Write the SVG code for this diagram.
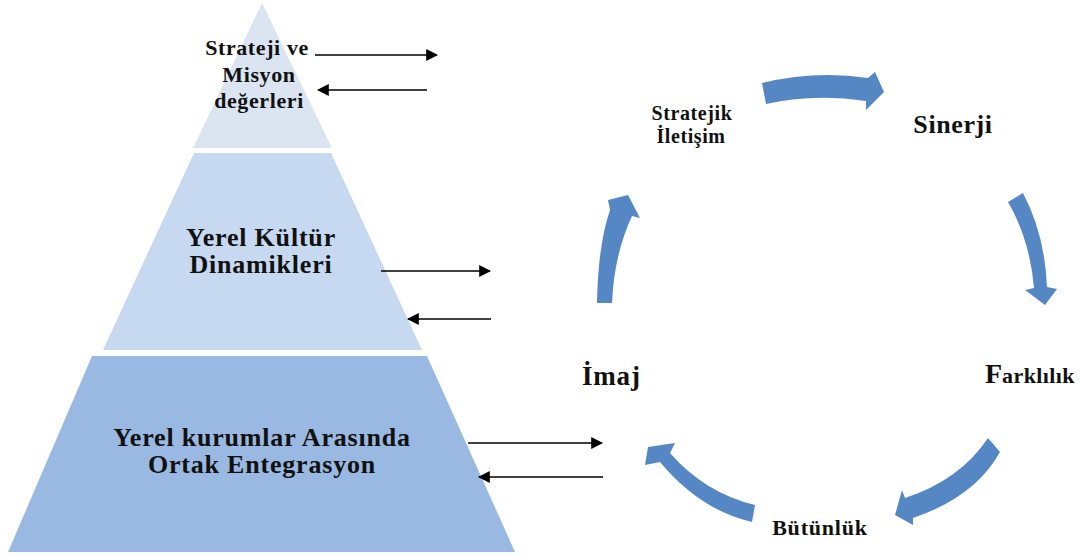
<svg xmlns="http://www.w3.org/2000/svg" width="1087" height="557" viewBox="0 0 1087 557">
<defs>
<style>
.t{font-family:'Liberation Serif','DejaVu Serif',serif;font-weight:bold;fill:#111;}
.c{stroke:#000;stroke-width:1.6;fill:none;}
.ba{fill:#5587c5;}
</style>
<marker id="ahb" viewBox="0 0 10 10" refX="9" refY="5" markerWidth="12" markerHeight="12" markerUnits="userSpaceOnUse" orient="auto">
<path d="M0,0 L10,5 L0,10 Z" fill="#000"/>
</marker>
</defs>
<rect width="1087" height="557" fill="#fff"/>
<g id="tier-top">
<polygon points="262,3 332,148 193,148" fill="#dbe5f1"/>
<text class="t" font-family="Liberation Serif, DejaVu Serif, serif" font-size="22" letter-spacing="0.6" text-anchor="middle"><tspan x="257" y="55">Strateji ve</tspan><tspan x="259" y="82">Misyon</tspan><tspan x="259" y="108">değerleri</tspan></text>
</g>
<g id="tier-middle">
<polygon points="194,153 331,153 422,350 103,350" fill="#c6d9f1"/>
<text class="t" font-family="Liberation Serif, DejaVu Serif, serif" font-size="26" letter-spacing="0.8" text-anchor="middle"><tspan x="261" y="246">Yerel Kültür</tspan><tspan x="261" y="273">Dinamikleri</tspan></text>
</g>
<g id="tier-bottom">
<polygon points="92,356 427,356 515,552 8,552" fill="#99b9e2"/>
<text class="t" font-family="Liberation Serif, DejaVu Serif, serif" font-size="26" letter-spacing="0.8" text-anchor="middle"><tspan x="262" y="446">Yerel kurumlar Arasında</tspan><tspan x="262" y="473">Ortak Entegrasyon</tspan></text>
</g>
<g id="connectors">
<line class="c" x1="315" y1="55" x2="437" y2="55" marker-end="url(#ahb)"/>
<line class="c" x1="427" y1="90" x2="318" y2="90" marker-end="url(#ahb)"/>
<line class="c" x1="381" y1="271" x2="490" y2="271" marker-end="url(#ahb)"/>
<line class="c" x1="491" y1="319" x2="408" y2="319" marker-end="url(#ahb)"/>
<line class="c" x1="468" y1="443" x2="602" y2="443" marker-end="url(#ahb)"/>
<line class="c" x1="603" y1="477" x2="479" y2="477" marker-end="url(#ahb)"/>
<path class="ba" d="M 762 83 Q 815 70 868 78 L 875 72 L 884 92 L 866 110 L 866 101 Q 815 93 766 104 Z"/>
<path class="ba" d="M 1008 202 L 1023 193 Q 1045 235 1047 287 L 1057 289 L 1045 305 L 1025 290 L 1034 288 Q 1030 240 1008 202 Z"/>
<path class="ba" d="M 988 438 L 1000 452 Q 975 497 913 518 L 913 525 L 895 515 L 902 490 L 905 498 Q 960 480 988 438 Z"/>
<path class="ba" d="M 755 505 L 752 522 Q 700 510 660 462 L 645 465 L 648 447 L 675 443 L 670 453 Q 705 493 755 505 Z"/>
<path class="ba" d="M 597 303 Q 598 245 610 210 L 608 200 L 628 195 L 640 218 L 632 216 Q 614 255 612 303 Z"/>
</g>
<g id="node-stratejik">
<text class="t" font-family="Liberation Serif, DejaVu Serif, serif" font-size="20" letter-spacing="0.6" text-anchor="middle"><tspan x="692" y="120">Stratejik</tspan><tspan x="691" y="143">İletişim</tspan></text>
</g>
<g id="node-sinerji"><text class="t" font-family="Liberation Serif, DejaVu Serif, serif" font-size="26" letter-spacing="0.6" x="953" y="133" text-anchor="middle">Sinerji</text></g>
<g id="node-farklilik"><text class="t" font-family="Liberation Serif, DejaVu Serif, serif" x="985" y="383"><tspan font-size="28">F</tspan><tspan font-size="22" letter-spacing="0.4">arklılık</tspan></text></g>
<g id="node-butunluk"><text class="t" font-family="Liberation Serif, DejaVu Serif, serif" font-size="22" letter-spacing="0.8" x="820" y="535" text-anchor="middle">Bütünlük</text></g>
<g id="node-imaj"><text class="t" font-family="Liberation Serif, DejaVu Serif, serif" font-size="27" letter-spacing="0.8" x="582" y="385">İmaj</text></g>
</svg>
